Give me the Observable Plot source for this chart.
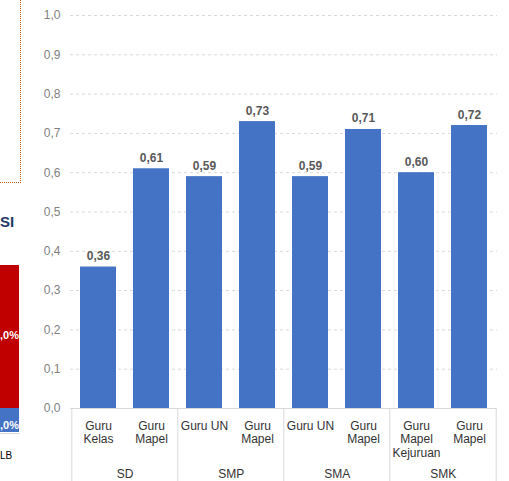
<!DOCTYPE html>
<html><head><meta charset="utf-8">
<script src="https://cdn.jsdelivr.net/npm/d3@7"></script>
<script src="https://cdn.jsdelivr.net/npm/@observablehq/plot@0.6"></script>
<style>
body{margin:0;background:#fff;}
#wrap{position:relative;width:509px;height:481px;overflow:hidden;font-family:"Liberation Sans",Arial,sans-serif;background:#fff;}
#chart{position:absolute;left:0;top:0;}
.frag{position:absolute;z-index:2;white-space:nowrap;}
</style></head><body>
<div id="wrap">
  <div id="chart"></div>
  <div class="frag" style="left:20px;top:0;height:183px;border-left:1.5px dotted #c55a11;"></div>
  <div class="frag" style="left:0;top:182px;width:21px;border-top:1.5px dotted #c55a11;"></div>
  <div class="frag" style="left:0;top:213px;font-weight:bold;font-size:15px;color:#1f3864;">SI</div>
  <div class="frag" style="left:0;top:265px;width:19px;height:143px;background:#c00000;"></div>
  <div class="frag" style="left:0;top:408px;width:19px;height:24px;background:#4472c4;"></div>
  <div class="frag" style="left:0;top:329px;font-weight:bold;font-size:11px;color:#fff;">,0%</div>
  <div class="frag" style="left:0;top:419px;font-weight:bold;font-size:11px;color:#fff;">,0%</div>
  <div class="frag" style="left:0;top:433px;width:20px;border-top:1px solid #d9d9d9;"></div>
  <div class="frag" style="left:0;top:450px;font-size:10px;color:#000;">LB</div>
</div>
<script>
const groups = ["SD", "SD", "SMP", "SMP", "SMA", "SMA", "SMK", "SMK"];
const categories = ["Guru\nKelas", "Guru\nMapel", "Guru UN", "Guru\nMapel", "Guru UN", "Guru\nMapel", "Guru\nMapel\nKejuruan", "Guru\nMapel"];
const values = [0.36, 0.61, 0.59, 0.73, 0.59, 0.71, 0.60, 0.72];
const yTicks = [0, 0.1, 0.2, 0.3, 0.4, 0.5, 0.6, 0.7, 0.8, 0.9, 1.0];

const data = values.map((v, i) => ({key: groups[i] + "|" + i, group: groups[i], cat: categories[i], value: v}));
const keys = data.map(d => d.key);
const groupStarts = data.filter((d, i) => i === 0 || groups[i - 1] !== groups[i]);
const lastKey = [data[data.length - 1]];

const W = 509, H = 481, mL = 70, mR = 12, mT = 15, mB = 73;
const pIn = 0.33, pOut = pIn / 2;
const step = (W - mL - mR) / (keys.length - pIn + 2 * pOut);
const comma1 = v => d3.format(".1f")(v).replace(".", ",");
const comma2 = v => d3.format(".2f")(v).replace(".", ",");
const grid = "#d9d9d9";

const chart = Plot.plot({
  width: W, height: H,
  marginLeft: mL, marginRight: mR, marginTop: mT, marginBottom: mB,
  style: {fontFamily: '"Liberation Sans", Arial, sans-serif', fontSize: "12px", color: "#7f7f7f", background: "transparent"},
  x: {domain: keys, paddingInner: pIn, paddingOuter: pOut, axis: null},
  y: {domain: [0, 1], ticks: yTicks, tickFormat: comma1, tickSize: 0, tickPadding: 10, label: null},
  marks: [
    Plot.ruleY(yTicks.filter(t => t > 0), {stroke: grid, strokeDasharray: "3,3"}),
    Plot.ruleY([0], {stroke: grid}),
    Plot.barY(data, {x: "key", y: "value", fill: "#4472c4"}),
    Plot.text(data, {x: "key", y: "value", text: d => comma2(d.value), dy: -7, lineAnchor: "bottom", fontWeight: "bold", fontSize: 12, fill: "#595959"}),
    Plot.text(data, {x: "key", y: 0, text: "cat", lineAnchor: "top", dy: 11.5, fontSize: 12, lineHeight: 1.125, fill: "#333333"}),
    Plot.text(groupStarts, {x: "key", y: 0, text: "group", dx: step / 2, dy: 61, lineAnchor: "top", fontSize: 12, fill: "#333333"}),
    Plot.ruleX(groupStarts, {x: "key", y1: 0, y2: 0, dx: -step / 2, insetBottom: -mB, stroke: grid}),
    Plot.ruleX(lastKey, {x: "key", y1: 0, y2: 0, dx: step / 2, insetBottom: -mB, stroke: grid})
  ]
});
document.getElementById("chart").appendChild(chart);
</script>
</body></html>
